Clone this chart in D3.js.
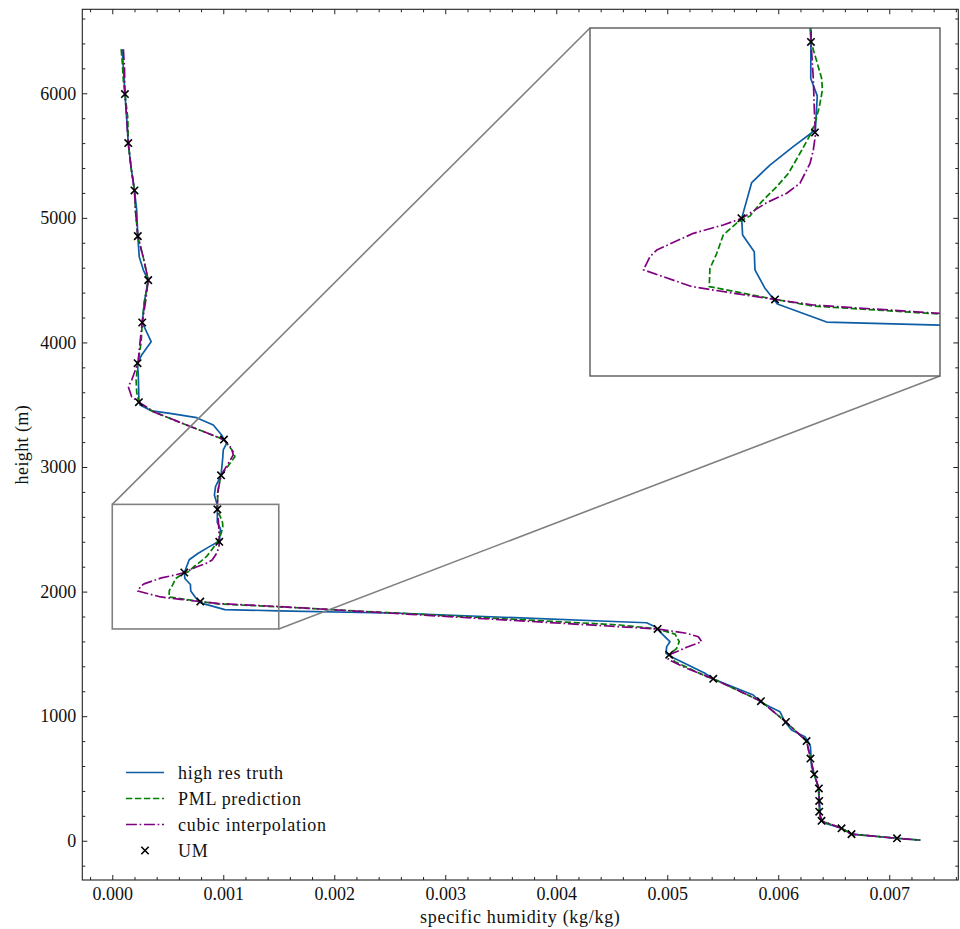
<!DOCTYPE html>
<html>
<head>
<meta charset="utf-8">
<script src="https://cdn.jsdelivr.net/npm/d3@7"></script>
<style>
  body { margin: 0; background: #fff; }
  svg { display: block; }
</style>
</head>
<body>
<svg id="chart" width="960" height="929"></svg>
<script>
// UM model levels (crosses)
var umHeight = [20, 53.3, 100, 160, 233.3, 320, 420, 533.3, 660, 800, 953.3, 1120, 1300, 1493.3,
    1700, 1920, 2153.3, 2400, 2660, 2933.3, 3220, 3520, 3833.3, 4160, 4500, 4853.3, 5220, 5600, 5993.3];
var umQ = [0.00707, 0.00666, 0.00657, 0.00639, 0.006369, 0.006369, 0.006366, 0.006324, 0.00629, 0.006255,
    0.006069, 0.005844, 0.005414, 0.005018, 0.004913, 0.000793, 0.000649, 0.000964, 0.000947, 0.00098,
    0.001006, 0.00024, 0.000228, 0.00027, 0.000324, 0.00023, 0.0002, 0.000144, 0.000114];

// high res truth
var truthHeight = [6353, 6200, 6000, 5800, 5600, 5400, 5220, 5063, 4853, 4688, 4581, 4500, 4330, 4160,
    4006, 3899, 3833, 3752, 3540, 3497, 3450, 3431, 3396, 3337, 3257, 3222, 3190, 3137, 3070, 2933,
    2842, 2775, 2704, 2661, 2555, 2505, 2407, 2359, 2306, 2256, 2153, 2105, 2057, 2005, 1952, 1907,
    1855, 1846, 1826, 1758, 1750, 1718, 1651, 1598, 1558, 1504, 1469, 1344, 1298, 1170, 1113, 1036,
    955, 889, 835, 795, 755, 594, 434, 246, 193, 145, 100, 53, 20, 5];
var truthQ = [0.00009, 0.0001, 0.000114, 0.00013, 0.000144, 0.00017, 0.0002, 0.00022, 0.00023, 0.000243,
    0.00028, 0.000324, 0.00029, 0.00027, 0.00035, 0.000265, 0.000225, 0.000234, 0.00024, 0.00025,
    0.000355, 0.00052, 0.00076, 0.00091, 0.000985, 0.001006, 0.00103, 0.001, 0.000995, 0.00098,
    0.00093, 0.00092, 0.000943, 0.000947, 0.000946, 0.000974, 0.000966, 0.000871, 0.000771, 0.000693,
    0.00065, 0.000654, 0.000704, 0.000707, 0.00075, 0.000803, 0.001014, 0.0015, 0.0026, 0.004574,
    0.004814, 0.00489, 0.004964, 0.005024, 0.004995, 0.004988, 0.005054, 0.00534, 0.005414, 0.005775,
    0.00584, 0.006015, 0.00606, 0.00612, 0.00624, 0.00627, 0.00629, 0.0063, 0.00636, 0.006376,
    0.006376, 0.006405, 0.00657, 0.00666, 0.00707, 0.00728];

// PML prediction
var pmlHeight = [6353, 6250, 6100, 6000, 5800, 5600, 5400, 5220, 5050, 4853, 4680, 4500, 4330, 4160,
    4000, 3833, 3700, 3600, 3520, 3444, 3337, 3243, 3220, 3123, 3083, 2933, 2850, 2775, 2661, 2555,
    2522, 2474, 2426, 2392, 2340, 2282, 2244, 2201, 2160, 2140, 2105, 2052, 2009, 1957, 1920, 1901,
    1878, 1732, 1700, 1659, 1598, 1545, 1493, 1437, 1317, 1300, 1120, 953, 800, 660, 533, 420, 320,
    233, 160, 100, 53, 20, 5];
var pmlQ = [0.00008, 0.00009, 0.0001, 0.000114, 0.00014, 0.000144, 0.00017, 0.0002, 0.00021, 0.00023,
    0.00028, 0.000324, 0.00029, 0.00027, 0.00026, 0.000231, 0.000215, 0.00022, 0.00024, 0.00037,
    0.00067, 0.00094, 0.001006, 0.00109, 0.001105, 0.00098, 0.00096, 0.00095, 0.000947, 0.000993,
    0.000996, 0.000983, 0.000964, 0.000943, 0.0009, 0.00085, 0.0008, 0.000736, 0.000686, 0.00063,
    0.000571, 0.000543, 0.000514, 0.000511, 0.000793, 0.000957, 0.0015, 0.004574, 0.004913, 0.00507,
    0.005108, 0.005085, 0.005018, 0.00507, 0.005355, 0.005414, 0.005844, 0.006069, 0.006255, 0.00629,
    0.006324, 0.006366, 0.006369, 0.006369, 0.00639, 0.00657, 0.00666, 0.00707, 0.00728];

// cubic interpolation
var cubicHeight = [6353, 6200, 6000, 5800, 5600, 5400, 5220, 5050, 4853, 4680, 4500, 4330, 4160, 4000,
    3833, 3698, 3645, 3564, 3520, 3444, 3337, 3243, 3220, 3150, 3096, 2933, 2800, 2661, 2555, 2474,
    2392, 2349, 2311, 2254, 2225, 2198, 2153, 2134, 2110, 2062, 2043, 2005, 1957, 1938, 1920, 1904,
    1880, 1718, 1700, 1665, 1638, 1598, 1553, 1493, 1456, 1384, 1300, 1120, 953, 800, 660, 533, 420,
    320, 233, 160, 100, 53, 20, 5];
var cubicQ = [0.0001, 0.00011, 0.000114, 0.00013, 0.000144, 0.00017, 0.0002, 0.00021, 0.00023, 0.00028,
    0.000324, 0.0003, 0.00027, 0.00025, 0.000231, 0.000175, 0.000144, 0.000175, 0.00024, 0.00037,
    0.00067, 0.00094, 0.001006, 0.001075, 0.00109, 0.00098, 0.00095, 0.000947, 0.000957, 0.000961,
    0.000966, 0.000957, 0.000943, 0.0009, 0.000843, 0.000757, 0.00065, 0.000571, 0.000443, 0.000286,
    0.000257, 0.000229, 0.000436, 0.000614, 0.000793, 0.000957, 0.0015, 0.004574, 0.004913, 0.005175,
    0.00528, 0.00531, 0.005175, 0.005018, 0.005009, 0.005175, 0.005414, 0.005844, 0.006069, 0.006255,
    0.00629, 0.006324, 0.006366, 0.006369, 0.006369, 0.00639, 0.00657, 0.00666, 0.00707, 0.00728];

var xMajor = [0, 0.001, 0.002, 0.003, 0.004, 0.005, 0.006, 0.007];
var yMajor = [0, 1000, 2000, 3000, 4000, 5000, 6000];
var xMinor = d3.range(-1, 39).filter(d => d % 5 != 0).map(d => d * 0.0002);
var yMinor = d3.range(-1, 34).map(d => d * 200).filter(d => d % 1000 != 0);

var zoomX = [0, 0.0015], zoomY = [1700, 2700];

var FONT = "'Liberation Serif', 'DejaVu Serif', serif";
var FS = 18;

var svg = d3.select("svg#chart");

var pLeft = 82.3, pRight = 958.3, pTop = 9.3, pBottom = 880;

var x = d3.scaleLinear().domain([-0.00027, 0.007622]).range([pLeft, pRight]);
var y = d3.scaleLinear().domain([-315, 6674]).range([pBottom, pTop]);

var series = [
    { name: "high res truth", q: truthQ, h: truthHeight, color: "#0C5DA5", dash: null },
    { name: "PML prediction", q: pmlQ, h: pmlHeight, color: "#008000", dash: "6.3,2.7" },
    { name: "cubic interpolation", q: cubicQ, h: cubicHeight, color: "#800080", dash: "10.9,2.7,1.7,2.7" }
];

var crossPath = "M-3.7,-3.7L3.7,3.7M-3.7,3.7L3.7,-3.7";

function drawSeries(g, sx, sy) {
    series.forEach(function(s) {
        var pts = s.q.map((q, i) => [q, s.h[i]]);
        var line = d3.line().x(d => sx(d[0])).y(d => sy(d[1]));
        g.append("path")
            .attr("d", line(pts))
            .attr("fill", "none")
            .attr("stroke", s.color)
            .attr("stroke-width", 1.7)
            .attr("stroke-dasharray", s.dash)
            .attr("stroke-linejoin", "round");
    });
    g.selectAll("path.um")
        .data(umQ.map((q, i) => [q, umHeight[i]]))
        .enter()
        .append("path")
        .attr("class", "um")
        .attr("d", crossPath)
        .attr("transform", d => "translate(" + sx(d[0]) + "," + sy(d[1]) + ")")
        .attr("stroke", "black")
        .attr("stroke-width", 1.6)
        .attr("fill", "none");
}

// axes: ticks point inward on all four sides
function styleAxis(g) {
    g.select(".domain").remove();
    g.attr("font-family", FONT).attr("font-size", FS);
    g.selectAll("line").attr("stroke", "#222").attr("stroke-width", 1);
    g.selectAll("text").attr("fill", "#111");
}

svg.append("g").attr("transform", "translate(0," + pBottom + ")")
    .call(d3.axisBottom(x).tickValues(xMajor).tickSize(-5).tickSizeOuter(0).tickPadding(7.4).tickFormat(d3.format(".3f")))
    .call(styleAxis);
svg.append("g").attr("transform", "translate(0," + pBottom + ")")
    .call(d3.axisBottom(x).tickValues(xMinor).tickSize(-3).tickSizeOuter(0).tickFormat(""))
    .call(styleAxis);
svg.append("g").attr("transform", "translate(0," + pTop + ")")
    .call(d3.axisTop(x).tickValues(xMajor).tickSize(-5).tickSizeOuter(0).tickFormat(""))
    .call(styleAxis);
svg.append("g").attr("transform", "translate(0," + pTop + ")")
    .call(d3.axisTop(x).tickValues(xMinor).tickSize(-3).tickSizeOuter(0).tickFormat(""))
    .call(styleAxis);

svg.append("g").attr("transform", "translate(" + pLeft + ",0)")
    .call(d3.axisLeft(y).tickValues(yMajor).tickSize(-5).tickSizeOuter(0).tickPadding(6).tickFormat(d3.format("d")))
    .call(styleAxis);
svg.append("g").attr("transform", "translate(" + pLeft + ",0)")
    .call(d3.axisLeft(y).tickValues(yMinor).tickSize(-3).tickSizeOuter(0).tickFormat(""))
    .call(styleAxis);
svg.append("g").attr("transform", "translate(" + pRight + ",0)")
    .call(d3.axisRight(y).tickValues(yMajor).tickSize(-5).tickSizeOuter(0).tickFormat(""))
    .call(styleAxis);
svg.append("g").attr("transform", "translate(" + pRight + ",0)")
    .call(d3.axisRight(y).tickValues(yMinor).tickSize(-3).tickSizeOuter(0).tickFormat(""))
    .call(styleAxis);

svg.append("rect")
    .attr("x", pLeft).attr("y", pTop)
    .attr("width", pRight - pLeft).attr("height", pBottom - pTop)
    .attr("fill", "none").attr("stroke", "#222").attr("stroke-width", 1.1);

// main curves
svg.append("clipPath").attr("id", "clipMain")
    .append("rect").attr("x", pLeft).attr("y", pTop).attr("width", pRight - pLeft).attr("height", pBottom - pTop);
var main = svg.append("g").attr("clip-path", "url(#clipMain)");
drawSeries(main, x, y);

// zoom indicator and connectors
var ix0 = 590, ix1 = 940, iy0 = 28, iy1 = 376;
var xi = d3.scaleLinear().domain(zoomX).range([ix0, ix1]);
var yi = d3.scaleLinear().domain(zoomY).range([iy1, iy0]);

svg.append("rect")
    .attr("x", x(zoomX[0])).attr("y", y(zoomY[1]))
    .attr("width", x(zoomX[1]) - x(zoomX[0])).attr("height", y(zoomY[0]) - y(zoomY[1]))
    .attr("fill", "none").attr("stroke", "#808080").attr("stroke-width", 1.6);
svg.append("line")
    .attr("x1", x(zoomX[0])).attr("y1", y(zoomY[1])).attr("x2", ix0).attr("y2", iy0)
    .attr("stroke", "#808080").attr("stroke-width", 1.6);
svg.append("line")
    .attr("x1", x(zoomX[1])).attr("y1", y(zoomY[0])).attr("x2", ix1).attr("y2", iy1)
    .attr("stroke", "#808080").attr("stroke-width", 1.6);

// inset
svg.append("rect")
    .attr("x", ix0).attr("y", iy0).attr("width", ix1 - ix0).attr("height", iy1 - iy0)
    .attr("fill", "white");
svg.append("clipPath").attr("id", "clipInset")
    .append("rect").attr("x", ix0).attr("y", iy0).attr("width", ix1 - ix0).attr("height", iy1 - iy0);
var inset = svg.append("g").attr("clip-path", "url(#clipInset)");
drawSeries(inset, xi, yi);
svg.append("rect")
    .attr("x", ix0).attr("y", iy0).attr("width", ix1 - ix0).attr("height", iy1 - iy0)
    .attr("fill", "none").attr("stroke", "#5a5a5a").attr("stroke-width", 1.4);

// labels
svg.append("text")
    .attr("x", (pLeft + pRight) / 2).attr("y", 923)
    .attr("text-anchor", "middle")
    .attr("font-family", FONT).attr("font-size", FS).attr("fill", "#111")
    .attr("letter-spacing", 0.7)
    .text("specific humidity (kg/kg)");
svg.append("text")
    .attr("transform", "translate(28," + (pTop + pBottom) / 2 + ") rotate(-90)")
    .attr("text-anchor", "middle")
    .attr("font-family", FONT).attr("font-size", FS).attr("fill", "#111")
    .attr("letter-spacing", 0.4)
    .text("height (m)");

// legend
var legend = svg.selectAll("g.legend")
    .data(series.concat([{ name: "UM" }]))
    .enter()
    .append("g")
    .attr("class", "legend")
    .attr("transform", (d, i) => "translate(126," + (772.5 + i * 26) + ")");

legend.filter(d => d.color)
    .append("line")
    .attr("x1", 0).attr("x2", 38).attr("y1", 0).attr("y2", 0)
    .attr("stroke", d => d.color)
    .attr("stroke-width", 1.7)
    .attr("stroke-dasharray", d => d.dash);

legend.filter(d => !d.color)
    .append("path")
    .attr("d", crossPath)
    .attr("transform", "translate(19,0)")
    .attr("stroke", "black")
    .attr("stroke-width", 1.6);

legend.append("text")
    .attr("x", 52).attr("y", 0).attr("dy", "0.35em")
    .attr("font-family", FONT).attr("font-size", FS).attr("fill", "#111")
    .attr("letter-spacing", 0.7)
    .text(d => d.name);
</script>
</body>
</html>
